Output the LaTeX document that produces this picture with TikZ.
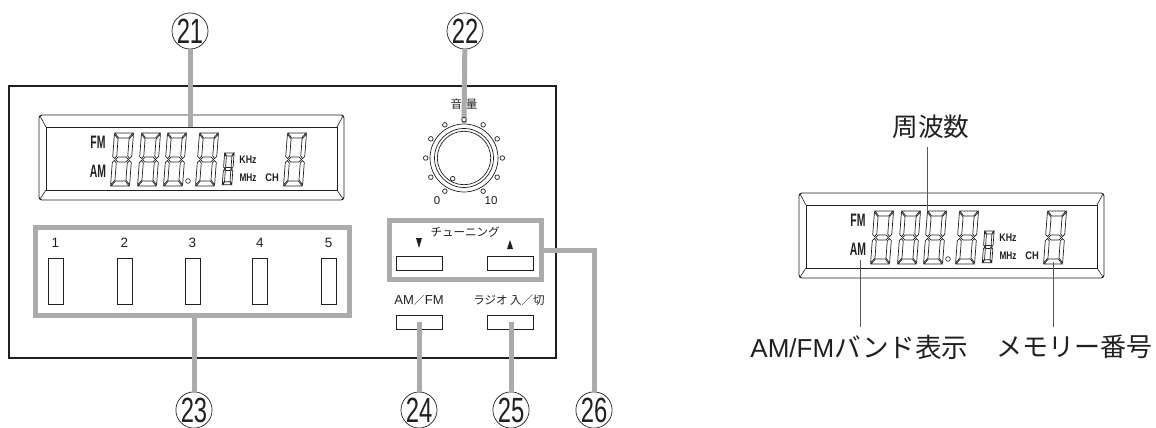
\documentclass[tikz,border=0pt]{standalone}
\usepackage{fontspec}
\setmainfont{Liberation Sans}
\newfontfamily\jpfont{Noto Sans CJK JP}
\usetikzlibrary{positioning}
\definecolor{leadgray}{HTML}{ABABAD}
\definecolor{inkblack}{HTML}{231F20}
\newcommand{\lcddigit}[4]{%
  \begin{scope}[shift={(#1,#2)},xslant=0.075,xscale=#3,yscale=#4,line width=0.7pt]
    \draw (1,0) -- (19,0) -- (15,5) -- (5,5) -- cycle;
    \draw (0.5,1) -- (4.5,6) -- (4.5,23) -- (2.5,25.5) -- (0.5,23.5) -- cycle;
    \draw (19.5,1) -- (15.5,6) -- (15.5,23) -- (17.5,25.5) -- (19.5,23.5) -- cycle;
    \draw (3.5,26.5) -- (6,24) -- (14,24) -- (16.5,26.5) -- (14,29) -- (6,29) -- cycle;
    \draw (0.5,52) -- (4.5,47) -- (4.5,30) -- (2.5,27.5) -- (0.5,29.5) -- cycle;
    \draw (19.5,52) -- (15.5,47) -- (15.5,30) -- (17.5,27.5) -- (19.5,29.5) -- cycle;
    \draw (1,53) -- (19,53) -- (15,48) -- (5,48) -- cycle;
  \end{scope}}
\newcommand{\circnum}[1]{\fontsize{35}{35}\selectfont\scalebox{0.68}[1]{#1}}
\begin{document}
\begin{tikzpicture}[x=1pt,y=-1pt,color=inkblack,
    num/.style = {draw, circle, fill=white, inner sep=0pt, minimum size=35pt, line width=0.7pt},
    presetbtn/.style = {draw, fill=white, minimum width=15pt, minimum height=46pt, inner sep=0pt, line width=0.6pt},
    widebtn/.style = {draw, fill=white, minimum width=46pt, minimum height=14pt, inner sep=0pt, line width=0.6pt},
    frame/.style = {draw=leadgray, line width=5pt, inner sep=0pt},
    lead/.style = {draw=leadgray, line width=5pt},
    thinlead/.style = {draw=black!65, line width=1pt},
    knobdot/.style = {draw, circle, fill=white, inner sep=0pt, minimum size=4.6pt, line width=0.7pt},
    ring/.style = {draw, circle, inner sep=0pt, line width=0.7pt},
    small/.style = {font=\fontsize{13.5}{14}\selectfont},
    scaletxt/.style = {font=\fontsize{11.5}{12}\selectfont, inner sep=0pt},
    tag/.style = {font=\jpfont\fontsize{11.5}{12}\selectfont, inner sep=0pt},
    biglabel/.style = {font=\fontsize{26}{27}\selectfont, inner sep=0pt},
    lcdbig/.style = {inner sep=0pt, font=\bfseries\fontsize{18}{18}\selectfont},
    lcdsmall/.style = {inner sep=0pt, font=\bfseries\fontsize{11}{11}\selectfont},
    lcd/.pic = {
      \draw[line width=0.9pt, rounded corners=3pt] (0,0) rectangle (305,85);
      \draw[line width=0.9pt] (7,12) rectangle (298,75);
      \draw[line width=0.6pt] (1,1) -- (7,12) (304,1) -- (298,12) (1,84) -- (7,75) (304,84) -- (298,75);
      \lcddigit{75}{18}{1}{1}
      \lcddigit{102}{18}{1}{1}
      \lcddigit{128}{18}{1}{1}
      \lcddigit{160}{18}{1}{1}
      \lcddigit{185.4}{38}{0.5}{0.6}
      \lcddigit{248}{18}{1}{1}
      \draw[line width=0.6pt] (149,66) circle[radius=2.3];
      \node[lcdbig] (-fm) at (59,27) {\scalebox{0.58}[1]{FM}};
      \node[lcdbig] (-am) at (59,56) {\scalebox{0.58}[1]{AM}};
      \node[lcdsmall] (-khz) at (209,45) {\scalebox{0.8}[1]{KHz}};
      \node[lcdsmall] (-mhz) at (209,63) {\scalebox{0.75}[1]{MHz}};
      \node[lcdsmall] (-ch) at (233,63) {\scalebox{0.85}[1]{CH}};
      \coordinate (-top) at (151,12);
      \coordinate (-freq) at (128.5,19);
      \coordinate (-band) at (61,67);
      \coordinate (-mem) at (254,69);
    }]
  \useasboundingbox (0,0) rectangle (1156,428);
  \node[draw, line width=1.3pt, minimum width=547pt, minimum height=272pt, inner sep=0pt] (panel) at (282.5,222) {};
  \pic (lcda) at (39,115) {lcd};
  \pic (lcdb) at (799,193) {lcd};

  \node[num] (n21) at (190,31) {\circnum{21}};
  \node[num] (n22) at (465,31) {\circnum{22}};
  \node[num] (n23) at (194,410) {\circnum{23}};
  \node[num] (n24) at (419,410) {\circnum{24}};
  \node[num] (n25) at (511,410) {\circnum{25}};
  \node[num] (n26) at (594,410) {\circnum{26}};

  \node[ring, minimum size=68pt] (knob) at (464,158) {};
  \node[ring, minimum size=59pt] (knobmid) at (knob) {};
  \node[ring, minimum size=53.4pt] (knobin) at (knob) {};
  \node[scaletxt] (vol0) at (437,201) {0};
  \node[scaletxt] (vol10) at (491,201) {10};
  \node[tag] (vol) at (464,104) {音\hspace{4pt}量};

  \node[frame, minimum width=314pt, minimum height=88pt] (presets) at (192.5,271.5) {};
  \foreach \i/\x in {1/55.5,2/124.5,3/192.5,4/260,5/328.5} {
    \node[presetbtn] (p\i) at (\x,281) {};
    \node[small, inner sep=0pt, above=10pt of p\i] (t\i) {\i};
  }

  \node[frame, minimum width=152pt, minimum height=59pt] (tuning) at (465.5,250) {};
  \node[tag] (tunetxt) at (465,232) {チューニング};
  \node[widebtn] (down) at (419,263) {};
  \node[widebtn] (up) at (510,263) {};
  \fill (416,238) -- (422,238) -- (419,248) -- cycle;
  \fill (507,249) -- (513,249) -- (510,240) -- cycle;

  \node[widebtn] (band) at (419,322) {};
  \node[widebtn] (radio) at (510,322) {};
  \node[inner sep=0pt, font=\fontsize{13}{14}\selectfont, above=16pt of band.center] (bandtxt) {AM{\jpfont\fontsize{11}{12}\selectfont ／}FM};
  \node[tag, above=16pt of radio.center, xshift=-1pt] (radiotxt) {ラジオ 入／切};

  \draw[lead] (n21) -- (lcda-top);
  \draw[lead] (n22) -- (knob.north);
  \draw[lead] (presets.south -| n23) -- (n23);
  \draw[lead] (band.center) -- (n24);
  \draw[lead] (radio.center -| n25) -- (n25);
  \draw[lead] (tuning.east |- 0,250) -| (n26);

  \foreach \a in {120,150,...,420} {
    \node[knobdot] (d\a) at ([shift={(\a:38.3)}]knob.center) {};
  }
  \node[knobdot] (mark) at (452.7,178.7) {};

  \node[biglabel, font=\jpfont\fontsize{25.7}{27}\selectfont] (freqtxt) at (931,127) {周波数};
  \node[biglabel] (bandlbl) at (859.5,347) {AM/FM{\jpfont\fontsize{26.6}{27}\selectfont バンド表示}};
  \node[biglabel, font=\jpfont\fontsize{26}{27}\selectfont] (memlbl) at (1074.5,347) {メモリー番号};
  \coordinate (freqend) at (927.5,147);
  \coordinate (bandend) at (860,327);
  \coordinate (memend) at (1053,327);
  \draw[thinlead] (freqend) -- (lcdb-freq);
  \draw[thinlead] (lcdb-band) -- (bandend);
  \draw[thinlead] (lcdb-mem) -- (memend);
\end{tikzpicture}
\end{document}
